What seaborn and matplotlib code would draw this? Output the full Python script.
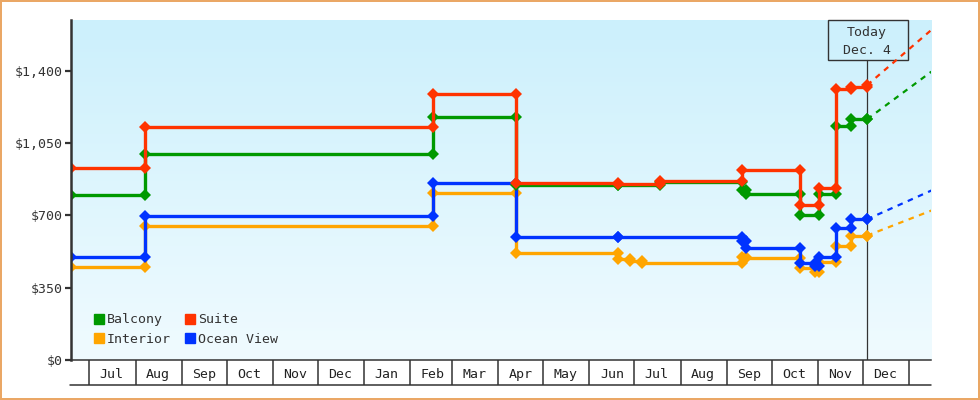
import numpy as np
import pandas as pd
import matplotlib.pyplot as plt
import matplotlib.dates as mdates
from matplotlib.colors import LinearSegmentedColormap
from matplotlib.lines import Line2D
from matplotlib.patches import Rectangle
from matplotlib.ticker import FuncFormatter, NullFormatter
import seaborn as sns

# Price history: dates where the fare changed and the new fare
balcony_dates = ['2016-06-19', '2016-08-07', '2017-02-16', '2017-04-13', '2017-06-20', '2017-07-18',
                 '2017-09-11', '2017-09-14', '2017-10-20', '2017-11-02', '2017-11-13', '2017-11-23', '2017-12-04']
balcony_prices = [800, 995, 1175, 847, 845, 860, 822, 802, 702, 802, 1133, 1165, 1165]

suite_dates = ['2016-06-19', '2016-08-07', '2017-02-16', '2017-04-13', '2017-06-20', '2017-07-18',
               '2017-09-11', '2017-10-20', '2017-11-02', '2017-11-13', '2017-11-23', '2017-12-04']
suite_prices = [928, 1126, 1286, 855, 853, 865, 920, 750, 831, 1310, 1323, 1330]

ocean_dates = ['2016-06-19', '2016-08-07', '2017-02-16', '2017-04-13', '2017-06-20', '2017-09-11',
               '2017-09-14', '2017-10-20', '2017-10-30', '2017-11-02', '2017-11-13', '2017-11-23', '2017-12-04']
ocean_prices = [497, 697, 855, 595, 595, 575, 541, 468, 455, 497, 637, 681, 681]

interior_dates = ['2016-06-19', '2016-08-07', '2017-02-16', '2017-04-13', '2017-06-20', '2017-06-28',
                  '2017-07-06', '2017-09-11', '2017-09-14', '2017-10-20', '2017-10-30', '2017-11-02',
                  '2017-11-13', '2017-11-23', '2017-12-04']
interior_prices = [449, 647, 807, 516, 487, 481, 468, 500, 495, 447, 427, 476, 552, 602, 602]

# projected fares at the right edge of the chart
proj_date = '2018-01-16'
balcony_proj = 1395
suite_proj = 1597
ocean_proj = 820
interior_proj = 723

today = pd.Timestamp('2017-12-04')
y_ticks = [0, 350, 700, 1050, 1400]

colors = {'Balcony': '#009900', 'Suite': '#ff3300', 'Interior': '#ffa500', 'Ocean View': '#0033ff'}
ink = '#333333'


def steps(dates, prices):
    # turn change points into step points (old and new price on each change date)
    dates = pd.to_datetime(dates)
    xs, ys = [dates[0]], [prices[0]]
    for d, old, new in zip(dates[1:], prices[:-1], prices[1:]):
        xs += [d, d]
        ys += [old, new]
    return xs, ys


sns.set_style('white')
plt.rcParams['font.family'] = ['DejaVu Sans Mono']

fig, ax = plt.subplots(figsize=(9.8, 4.0), dpi=100)
fig.subplots_adjust(left=71 / 980, right=931 / 980, bottom=40 / 400, top=380 / 400)
fig.patch.set_edgecolor('#eaa765')
fig.patch.set_linewidth(1.5)

# gradient background behind the plot
bg = fig.add_axes(ax.get_position())
bg.imshow(np.linspace(0, 1, 256).reshape(-1, 1), aspect='auto', extent=[0, 1, 0, 1],
          cmap=LinearSegmentedColormap.from_list('sky', ['#ccf0fc', '#f0fbff']))
bg.axis('off')
bg.set_zorder(-1)
ax.set_facecolor('none')

series = [
    ('Interior', interior_dates, interior_prices, interior_proj),
    ('Ocean View', ocean_dates, ocean_prices, ocean_proj),
    ('Balcony', balcony_dates, balcony_prices, balcony_proj),
    ('Suite', suite_dates, suite_prices, suite_proj),
]

for name, dates, prices, proj in series:
    xs, ys = steps(dates, prices)
    sns.lineplot(x=xs, y=ys, ax=ax, estimator=None, sort=False, color=colors[name],
                 lw=2.4, marker='D', markersize=6.3, markeredgewidth=0, legend=False)
    # dashed projection from today
    sns.lineplot(x=[today, pd.Timestamp(proj_date)], y=[prices[-1], proj], ax=ax,
                 estimator=None, sort=False, color=colors[name], lw=1.6,
                 linestyle=(0, (2.5, 2.5)), legend=False)

ax.set_xlim(pd.Timestamp('2016-06-18 17:00'), pd.Timestamp('2018-01-15 18:00'))
ax.set_ylim(0, 1645)

# today marker
ax.axvline(today, ymin=0, ymax=(360 - 60.3) / 340, color=ink, lw=0.9, zorder=1)
trans = ax.get_xaxis_transform()
box_x = mdates.date2num(today) - 26.4
ax.add_patch(Rectangle((box_x, (360 - 60.3) / 340), 53.7, 40.3 / 340, transform=trans,
                       fill=False, edgecolor=ink, lw=1, clip_on=False))
ax.text(today, (360 - 32.3) / 340, 'Today', transform=trans, ha='center', va='center',
        fontsize=9.5, color=ink)
ax.text(today, (360 - 50) / 340, 'Dec. 4', transform=trans, ha='center', va='center',
        fontsize=9.5, color=ink)

# y axis
ax.set_yticks(y_ticks)
ax.yaxis.set_major_formatter(FuncFormatter(lambda v, p: f'${v:,.0f}'))
ax.tick_params(axis='y', length=4, width=1.6, color=ink, pad=2, labelsize=9.5, labelcolor=ink, left=True)

# x axis: month cells
ax.xaxis.set_major_locator(mdates.MonthLocator())
ax.xaxis.set_major_formatter(NullFormatter())
ax.xaxis.set_minor_locator(mdates.MonthLocator(bymonthday=16))
ax.xaxis.set_minor_formatter(mdates.DateFormatter('%b'))
ax.tick_params(axis='x', which='major', length=18, width=1.1, color=ink, direction='out', bottom=True)
ax.tick_params(axis='x', which='minor', length=0, pad=6, labelsize=9.5, labelcolor='#222222', bottom=True)
ax.set_xlabel('')
ax.set_ylabel('')

for side in ['top', 'right']:
    ax.spines[side].set_visible(False)
ax.spines['left'].set_color(ink)
ax.spines['left'].set_linewidth(1.8)
ax.spines['bottom'].set_color(ink)
ax.spines['bottom'].set_linewidth(1.1)

# bottom rule of the month row
fig.add_artist(Line2D([70 / 980, 931 / 980], [15 / 400, 15 / 400], color=ink, lw=1.1))

# legend
order = ['Balcony', 'Interior', 'Suite', 'Ocean View']
handles = [Line2D([], [], marker='s', linestyle='none', color=colors[n], markersize=7.7) for n in order]
ax.legend(handles, order, ncol=2, loc='upper left', bbox_to_anchor=(0.026, 0.137),
          frameon=False, borderpad=0, borderaxespad=0, handlelength=0.8, handletextpad=0.25,
          columnspacing=1.0, labelspacing=0.5, fontsize=9.5, labelcolor=ink)

fig.savefig('out.png', dpi=100)
